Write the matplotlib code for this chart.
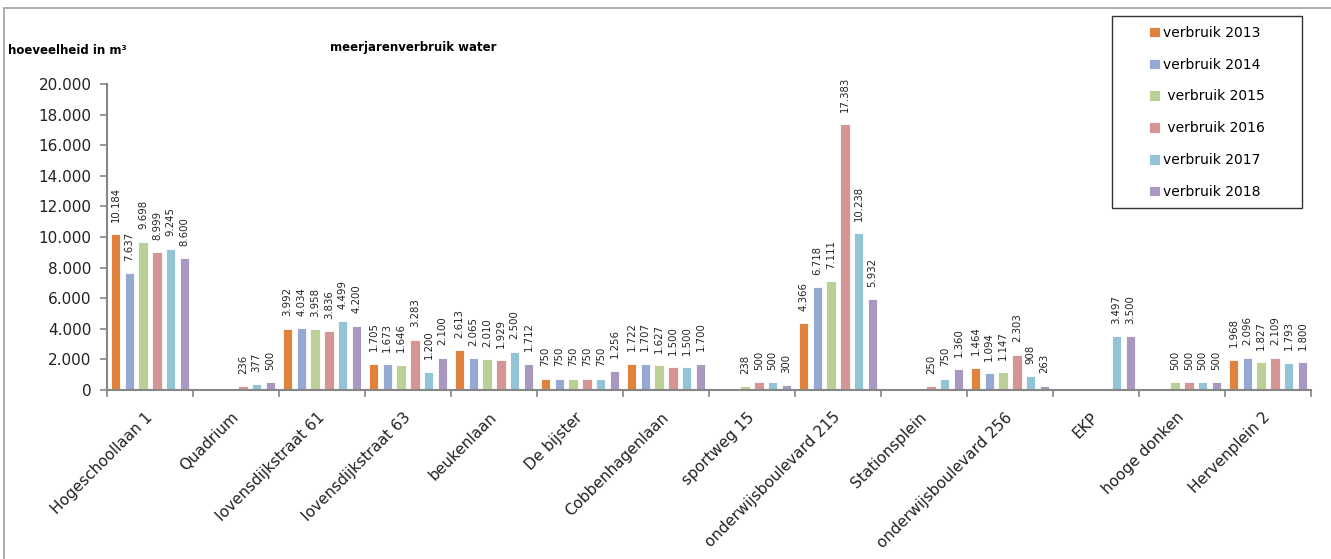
import numpy as np
import matplotlib.pyplot as plt
from matplotlib.patches import Rectangle

# locations and yearly water use (m3)
locations = ["Hogeschoollaan 1", "Quadrium", "Iovensdijkstraat 61", "Iovensdijkstraat 63",
             "beukenlaan", "De bijster", "Cobbenhagenlaan", "sportweg 15",
             "onderwijsboulevard 215", "Stationsplein", "onderwijsboulevard 256",
             "EKP", "hooge donken", "Hervenplein 2"]

verbruik_2013 = [10184, 0, 3992, 1705, 2613, 750, 1722, 0, 4366, 0, 1464, 0, 0, 1968]
verbruik_2014 = [7637, 0, 4034, 1673, 2065, 750, 1707, 0, 6718, 0, 1094, 0, 0, 2096]
verbruik_2015 = [9698, 0, 3958, 1646, 2010, 750, 1627, 238, 7111, 0, 1147, 0, 500, 1827]
verbruik_2016 = [8999, 236, 3836, 3283, 1929, 750, 1500, 500, 17383, 250, 2303, 0, 500, 2109]
verbruik_2017 = [9245, 377, 4499, 1200, 2500, 750, 1500, 500, 10238, 750, 908, 3497, 500, 1793]
verbruik_2018 = [8600, 500, 4200, 2100, 1712, 1256, 1700, 300, 5932, 1360, 263, 3500, 500, 1800]

series = [verbruik_2013, verbruik_2014, verbruik_2015,
          verbruik_2016, verbruik_2017, verbruik_2018]
legend_labels = ["verbruik 2013", "verbruik 2014", " verbruik 2015",
                 " verbruik 2016", "verbruik 2017", "verbruik 2018"]
colors = ["#E0823C", "#94A9D4", "#BBD097", "#D69595", "#92C4D6", "#A999C1"]


def dutch(v):
    return f"{v:,.0f}".replace(",", ".")


W, H = 1331, 559
fig = plt.figure(figsize=(W / 100, H / 100), dpi=100)
ax = fig.add_axes([107 / W, 1 - 390 / H, (1311 - 107) / W, (390 - 84) / H])

x = np.arange(len(locations))
slot = 0.16
bw = 0.108
handles = []
for j, (vals, col) in enumerate(zip(series, colors)):
    pos = x + (j - 2.5) * slot
    b = ax.bar(pos, vals, bw, color=col, edgecolor="white", linewidth=0.6, zorder=2)
    handles.append(b)
    for px, v in zip(pos, vals):
        if v > 0:
            ax.annotate(dutch(v), (px, v), xytext=(0, 9), textcoords="offset points",
                        rotation=90, ha="center", va="bottom", fontsize=7.3,
                        color="#222222")

ax.set_xlim(-0.5, len(locations) - 0.5)
ax.set_ylim(0, 20000)
ax.set_yticks(np.arange(0, 20001, 2000))
ax.set_yticklabels([dutch(v) for v in np.arange(0, 20001, 2000)], fontsize=11,
                   color="#222222")

ax.set_xticks(x)
ax.set_xticklabels(locations, rotation=45, ha="right", va="center",
                   rotation_mode="anchor", fontsize=11, color="#222222")
ax.tick_params(axis="x", length=0, pad=18)
ax.set_xticks(np.arange(-0.5, len(locations)), minor=True)
ax.tick_params(axis="x", which="minor", length=5, color="#868686", width=1.2)
ax.tick_params(axis="y", length=5, color="#868686", width=1.2, pad=6)

for s in ["top", "right"]:
    ax.spines[s].set_visible(False)
for s in ["left", "bottom"]:
    ax.spines[s].set_color("#868686")
    ax.spines[s].set_linewidth(1.5)

# titles
fig.text(8 / W, 1 - 50 / H, "hoeveelheid in m³", fontsize=8.5, fontweight="bold",
         va="center")
fig.text(330 / W, 1 - 47 / H, "meerjarenverbruik water", fontsize=8.5,
         fontweight="bold", va="center")

# outer chart frame (right and bottom edge fall outside the image)
fig.patches.append(Rectangle((4 / W, -0.05), 1.0, 1.05 - 8 / H,
                             transform=fig.transFigure, fill=False,
                             edgecolor="#A0A0A0", linewidth=1.2))

# legend box drawn separately, entries centered inside it
fig.patches.append(Rectangle((1112 / W, 1 - 208 / H), 190 / W, 192 / H,
                             transform=fig.transFigure, fill=False,
                             edgecolor="#333333", linewidth=1.0, zorder=5))
leg = fig.legend(handles, legend_labels, loc="upper center",
                 bbox_to_anchor=(1112 / W, 1 - 208 / H, 190 / W, 189 / H),
                 frameon=False, fontsize=10, handlelength=0.8, handleheight=0.8,
                 handletextpad=0.2, labelspacing=1.28, borderpad=0.5,
                 borderaxespad=0)

fig.savefig("out.png", dpi=100)
